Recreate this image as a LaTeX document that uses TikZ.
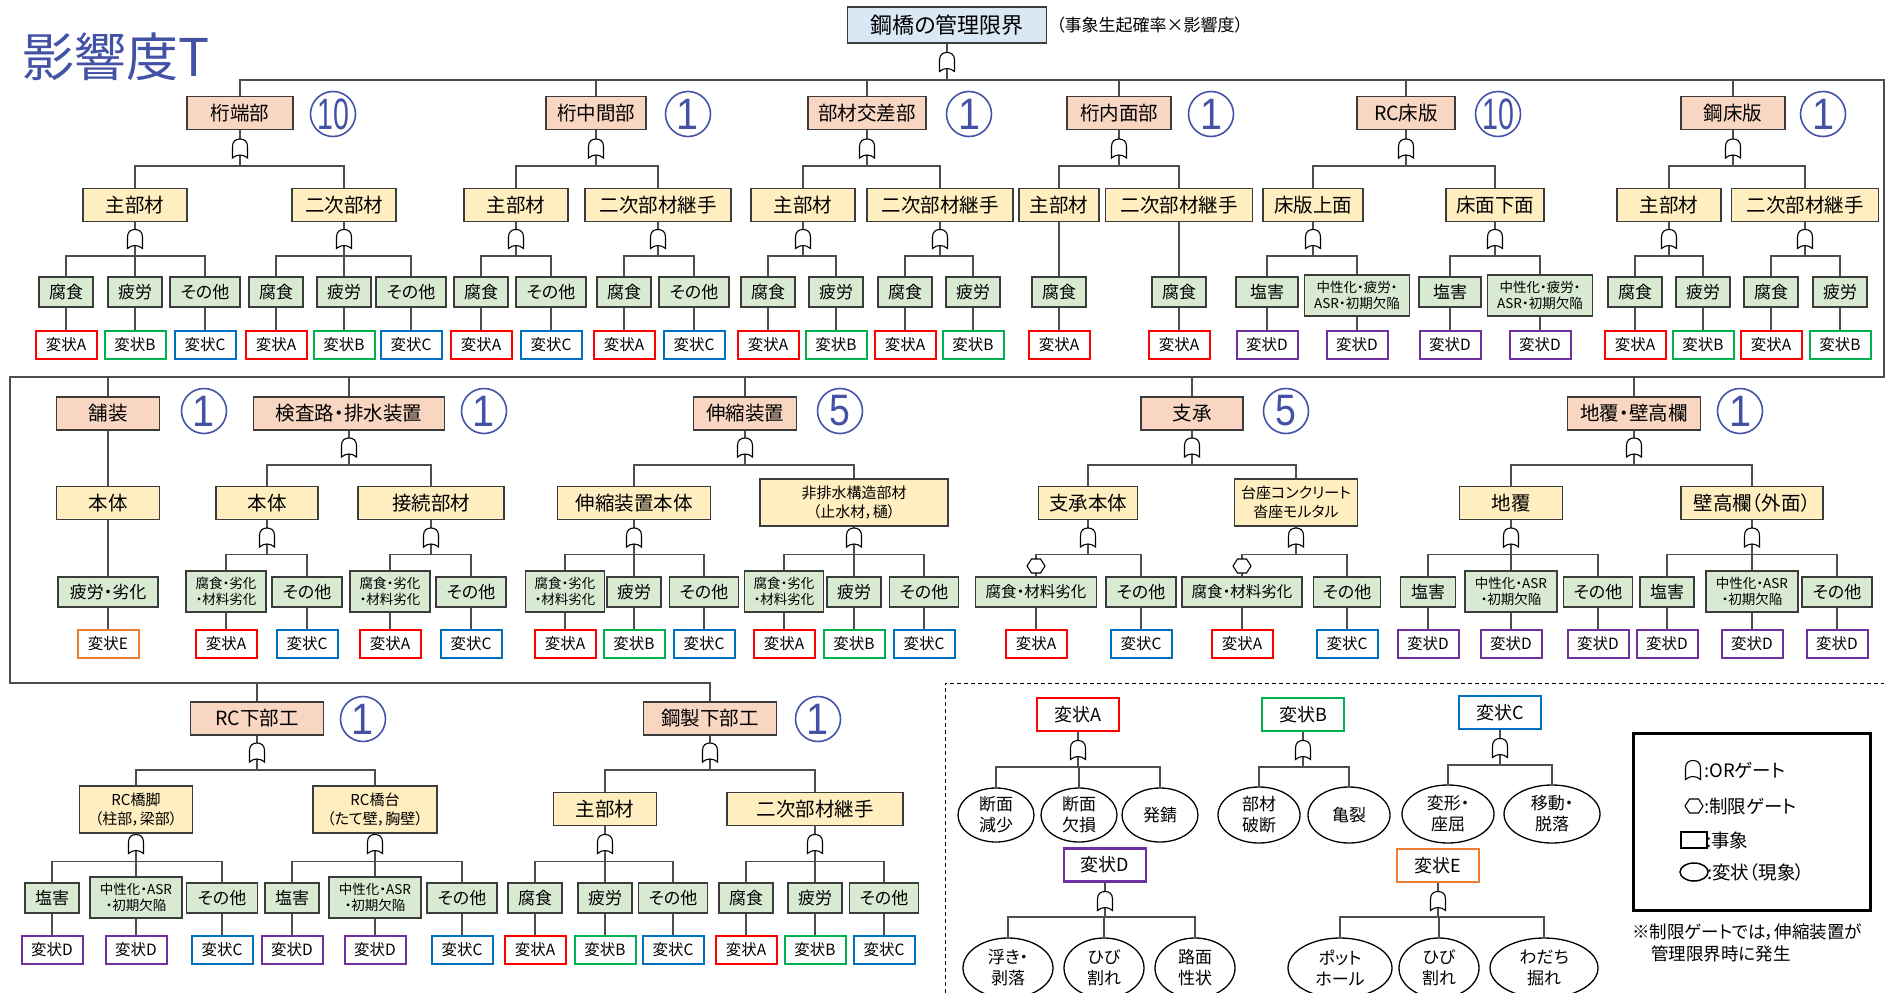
\documentclass[tikz,border=0pt]{standalone}
\usepackage{fontspec}
\setmainfont{Noto Sans CJK JP}[RawFeature=+palt]
\newfontfamily\numfont{Liberation Sans}
\usetikzlibrary{shapes.geometric}
\definecolor{catc}{HTML}{F8D6C2}
\definecolor{subc}{HTML}{FFEEC0}
\definecolor{leafc}{HTML}{D9EAD3}
\definecolor{topc}{HTML}{DAE8F5}
\definecolor{boxln}{HTML}{3C3C3C}
\definecolor{lnc}{HTML}{4D4D4D}
\definecolor{hAc}{HTML}{FF0000}
\definecolor{hBc}{HTML}{00B050}
\definecolor{hCc}{HTML}{0070C0}
\definecolor{hDc}{HTML}{7030A0}
\definecolor{hEc}{HTML}{ED7D31}
\definecolor{numc}{HTML}{4452A6}
\newcommand{\mynd}[5]{\node[#1,minimum width=#2] (#3) at #4 {#5};}
\newcommand{\myfan}[3]{\draw[cn] (#1.south) -- (#1.south |- 0,#2);\foreach \ch in {#3}{\draw[cn] (\ch.north) |- (#1.south |- 0,#2);}}
\newcommand{\mygate}[2]{\pic at (#1.south |- 0,#2) {orgate};}
\newcommand{\myvl}[2]{\draw[cn] (#1.south) -- (#1.south |- #2.north);}
\tikzset{
 cn/.style={draw=lnc, line width=1.5pt},
 gl/.style={draw=black, line width=1.1pt, fill=white},
 orgate/.pic={\path[gl] (-7.5,9.5) -- (-7.5,-2) .. controls (-7.5,-7.5) and (-4,-9.5) .. (0,-9.5) .. controls (4,-9.5) and (7.5,-7.5) .. (7.5,-2) -- (7.5,9.5) .. controls (3,5.5) and (-3,5.5) .. (-7.5,9.5) -- cycle;},
 hexgate/.pic={\path[gl] (-9,0) -- (-4.5,-7) -- (4.5,-7) -- (9,0) -- (4.5,7) -- (-4.5,7) -- cycle;},
 bx/.style={draw=boxln, line width=1.4pt, inner sep=0pt, align=center},
 topb/.style={bx, fill=topc, minimum width=199, minimum height=36, font=\fontsize{22}{26}\selectfont},
 cat/.style={bx, fill=catc, minimum height=33, font=\fontsize{19.5}{23}\selectfont},
 sub/.style={bx, fill=subc, minimum height=33, font=\fontsize{19.5}{23}\selectfont},
 subt/.style={bx, fill=subc, minimum height=47, font=\fontsize{15}{19}\selectfont},
 leaf/.style={bx, fill=leafc, minimum height=30, font=\fontsize{17}{20}\selectfont},
 leafm/.style={bx, fill=leafc, minimum height=30, font=\fontsize{15.5}{18}\selectfont},
 leaft/.style={bx, fill=leafc, minimum height=41, font=\fontsize{13.5}{16.5}\selectfont},
 hen/.style={fill=white, line width=2pt, inner sep=0pt, minimum width=61, minimum height=28, font=\fontsize{15.5}{18}\selectfont},
 hA/.style={hen, draw=hAc}, hB/.style={hen, draw=hBc}, hC/.style={hen, draw=hCc},
 hD/.style={hen, draw=hDc}, hE/.style={hen, draw=hEc},
 lh/.style={line width=2.2pt, fill=white, inner sep=0pt, minimum width=82, minimum height=33, font=\fontsize{18}{21}\selectfont},
 cnum/.style={circle, draw=numc, line width=1.6pt, minimum size=45, inner sep=0pt, text=numc, font=\numfont\fontsize{44}{44}\selectfont},
 ev/.style={ellipse, draw=black, line width=1.3pt, fill=white, inner sep=0pt, align=center, font=\fontsize{17}{21}\selectfont},
 txt/.style={inner sep=0pt, anchor=west},
}
\newcommand{\one}{\scalebox{0.9}[1]{1}}
\newcommand{\ten}{\scalebox{0.65}[1]{10}}
\newcommand{\five}{\scalebox{0.85}[1]{5}}
\begin{document}
\begin{tikzpicture}[x=1pt,y=-1pt]
\useasboundingbox (0,0) rectangle (1887,993);
% ---------- title and top ----------
\node[txt, text=numc, font=\fontsize{52}{52}\selectfont] (ttl) at (22,57) {影響度T};
\node[topb] (T) at (947,25) {鋼橋の管理限界};
\node[txt, font=\fontsize{17}{20}\selectfont] (Tn) at (1056,25) {（事象生起確率×影響度）};
% ---------- row 1 ----------
\mynd{cat}{106}{k1}{(240,113)}{桁端部}
\mynd{cat}{100}{k2}{(596,113)}{桁中間部}
\mynd{cat}{118}{k3}{(867,113)}{部材交差部}
\mynd{cat}{104}{k4}{(1119,113)}{桁内面部}
\mynd{cat}{98}{k5}{(1406,113)}{RC床版}
\mynd{cat}{104}{k6}{(1733,113)}{鋼床版}
\node[cnum] (n1) at (333,114) {\ten};
\node[cnum] (n2) at (688,114) {\one};
\node[cnum] (n3) at (969,114) {\one};
\node[cnum] (n4) at (1211,114) {\one};
\node[cnum] (n5) at (1498,114) {\ten};
\node[cnum] (n6) at (1823,114) {\one};
\mynd{sub}{104}{s11}{(135,205)}{主部材}
\mynd{sub}{104}{s12}{(344,205)}{二次部材}
\mynd{sub}{104}{s21}{(516,205)}{主部材}
\mynd{sub}{146}{s22}{(658,205)}{二次部材継手}
\mynd{sub}{104}{s31}{(803,205)}{主部材}
\mynd{sub}{146}{s32}{(940,205)}{二次部材継手}
\mynd{sub}{80}{s41}{(1059,205)}{主部材}
\mynd{sub}{147}{s42}{(1179,205)}{二次部材継手}
\mynd{sub}{100}{s51}{(1313,205)}{床版上面}
\mynd{sub}{98}{s52}{(1495,205)}{床面下面}
\mynd{sub}{104}{s61}{(1669,205)}{主部材}
\mynd{sub}{147}{s62}{(1805,205)}{二次部材継手}
% leaves row 1
\mynd{leaf}{54}{l111}{(66,292)}{腐食}
\mynd{leaf}{54}{l112}{(135,292)}{疲労}
\mynd{leaf}{70}{l113}{(205,292)}{その他}
\mynd{leaf}{54}{l121}{(276,292)}{腐食}
\mynd{leaf}{54}{l122}{(344,292)}{疲労}
\mynd{leaf}{70}{l123}{(411,292)}{その他}
\mynd{leaf}{54}{l211}{(481,292)}{腐食}
\mynd{leaf}{70}{l212}{(551,292)}{その他}
\mynd{leaf}{54}{l221}{(624,292)}{腐食}
\mynd{leaf}{70}{l222}{(694,292)}{その他}
\mynd{leaf}{54}{l311}{(768,292)}{腐食}
\mynd{leaf}{54}{l312}{(836,292)}{疲労}
\mynd{leaf}{54}{l321}{(905,292)}{腐食}
\mynd{leaf}{54}{l322}{(973,292)}{疲労}
\mynd{leaf}{54}{l411}{(1059,292)}{腐食}
\mynd{leaf}{54}{l421}{(1179,292)}{腐食}
\mynd{leaf}{62}{l511}{(1267,292)}{塩害}
\mynd{leaft}{105}{l512}{(1357,295.5)}{中性化・疲労・\\ASR・初期欠陥}
\mynd{leaf}{62}{l521}{(1450,292)}{塩害}
\mynd{leaft}{105}{l522}{(1540,295.5)}{中性化・疲労・\\ASR・初期欠陥}
\mynd{leaf}{54}{l611}{(1635,292)}{腐食}
\mynd{leaf}{54}{l612}{(1703,292)}{疲労}
\mynd{leaf}{54}{l621}{(1771,292)}{腐食}
\mynd{leaf}{54}{l622}{(1840,292)}{疲労}
% hen row 1
\node[hA] (h111) at (66,345) {変状A};
\node[hB] (h112) at (135,345) {変状B};
\node[hC] (h113) at (205,345) {変状C};
\node[hA] (h121) at (276,345) {変状A};
\node[hB] (h122) at (344,345) {変状B};
\node[hC] (h123) at (411,345) {変状C};
\node[hA] (h211) at (481,345) {変状A};
\node[hC] (h212) at (551,345) {変状C};
\node[hA] (h221) at (624,345) {変状A};
\node[hC] (h222) at (694,345) {変状C};
\node[hA] (h311) at (768,345) {変状A};
\node[hB] (h312) at (836,345) {変状B};
\node[hA] (h321) at (905,345) {変状A};
\node[hB] (h322) at (973,345) {変状B};
\node[hA] (h411) at (1059,345) {変状A};
\node[hA] (h421) at (1179,345) {変状A};
\node[hD] (h511) at (1267,345) {変状D};
\node[hD] (h512) at (1357,345) {変状D};
\node[hD] (h521) at (1450,345) {変状D};
\node[hD] (h522) at (1540,345) {変状D};
\node[hA] (h611) at (1635,345) {変状A};
\node[hB] (h612) at (1703,345) {変状B};
\node[hA] (h621) at (1771,345) {変状A};
\node[hB] (h622) at (1840,345) {変状B};
% ---------- row 2 ----------
\mynd{cat}{103}{k7}{(108,413.5)}{舗装}
\mynd{cat}{191}{k8}{(349,413.5)}{検査路・排水装置}
\mynd{cat}{103}{k9}{(745,413.5)}{伸縮装置}
\mynd{cat}{102}{k10}{(1192,413.5)}{支承}
\mynd{cat}{133}{k11}{(1634,413.5)}{地覆・壁高欄}
\node[cnum] (n7) at (204,411) {\one};
\node[cnum] (n8) at (484,411) {\one};
\node[cnum] (n9) at (840,411) {\five};
\node[cnum] (n10) at (1286,411) {\five};
\node[cnum] (n11) at (1740,411) {\one};
\mynd{sub}{103}{s71}{(108,503)}{本体}
\mynd{sub}{102}{s81}{(267,503)}{本体}
\mynd{sub}{146}{s82}{(431,503)}{接続部材}
\mynd{sub}{153}{s91}{(634,503)}{伸縮装置本体}
\mynd{subt}{188}{s92}{(854,502.5)}{非排水構造部材\\（止水材，樋）}
\mynd{sub}{99}{s101}{(1088,503)}{支承本体}
\mynd{subt}{123}{s102}{(1296,502.5)}{台座コンクリート\\沓座モルタル}
\mynd{sub}{103}{s111}{(1511,503)}{地覆}
\mynd{sub}{142}{s112}{(1752,503)}{壁高欄（外面）}
\mynd{leaf}{100}{l71}{(108,592)}{疲労・劣化}
\mynd{leaft}{80}{l811}{(226,591.5)}{腐食・劣化\\・材料劣化}
\mynd{leaf}{70}{l812}{(307,592)}{その他}
\mynd{leaft}{80}{l821}{(390,591.5)}{腐食・劣化\\・材料劣化}
\mynd{leaf}{70}{l822}{(471,592)}{その他}
\mynd{leaft}{79}{l911}{(565,591.5)}{腐食・劣化\\・材料劣化}
\mynd{leaf}{54}{l912}{(634,592)}{疲労}
\mynd{leaf}{69}{l913}{(704,592)}{その他}
\mynd{leaft}{79}{l921}{(784,591.5)}{腐食・劣化\\・材料劣化}
\mynd{leaf}{54}{l922}{(854,592)}{疲労}
\mynd{leaf}{69}{l923}{(924,592)}{その他}
\mynd{leafm}{121}{l1011}{(1036,592)}{腐食・材料劣化}
\mynd{leaf}{70}{l1012}{(1141,592)}{その他}
\mynd{leafm}{120}{l1021}{(1242,592)}{腐食・材料劣化}
\mynd{leaf}{67}{l1022}{(1347,592)}{その他}
\mynd{leaf}{55}{l1111}{(1428,592)}{塩害}
\mynd{leaft}{92}{l1112}{(1511,591.5)}{中性化・ASR\\・初期欠陥}
\mynd{leaf}{69}{l1113}{(1598,592)}{その他}
\mynd{leaf}{54}{l1121}{(1667,592)}{塩害}
\mynd{leaft}{92}{l1122}{(1752,591.5)}{中性化・ASR\\・初期欠陥}
\mynd{leaf}{70}{l1123}{(1837,592)}{その他}
\node[hE] (h71) at (108,644) {変状E};
\node[hA] (h811) at (226,644) {変状A};
\node[hC] (h812) at (307,644) {変状C};
\node[hA] (h821) at (390,644) {変状A};
\node[hC] (h822) at (471,644) {変状C};
\node[hA] (h911) at (565,644) {変状A};
\node[hB] (h912) at (634,644) {変状B};
\node[hC] (h913) at (704,644) {変状C};
\node[hA] (h921) at (784,644) {変状A};
\node[hB] (h922) at (854,644) {変状B};
\node[hC] (h923) at (924,644) {変状C};
\node[hA] (h1011) at (1036,644) {変状A};
\node[hC] (h1012) at (1141,644) {変状C};
\node[hA] (h1021) at (1242,644) {変状A};
\node[hC] (h1022) at (1347,644) {変状C};
\node[hD] (h1111) at (1428,644) {変状D};
\node[hD] (h1112) at (1511,644) {変状D};
\node[hD] (h1113) at (1598,644) {変状D};
\node[hD] (h1121) at (1667,644) {変状D};
\node[hD] (h1122) at (1752,644) {変状D};
\node[hD] (h1123) at (1837,644) {変状D};
% ---------- row 3 ----------
\mynd{cat}{133}{k12}{(257,718.5)}{RC下部工}
\mynd{cat}{133}{k13}{(710,718.5)}{鋼製下部工}
\node[cnum] (n12) at (363,719) {\one};
\node[cnum] (n13) at (818,719) {\one};
\mynd{subt}{113}{s121}{(136,809.5)}{RC橋脚\\（柱部，梁部）}
\mynd{subt}{124}{s122}{(375,809.5)}{RC橋台\\（たて壁，胸壁）}
\mynd{sub}{103}{s131}{(605,809)}{主部材}
\mynd{sub}{176}{s132}{(815,809)}{二次部材継手}
\mynd{leaf}{54}{l1211}{(52,898)}{塩害}
\mynd{leaft}{92}{l1212}{(136,897.5)}{中性化・ASR\\・初期欠陥}
\mynd{leaf}{71}{l1213}{(222,898)}{その他}
\mynd{leaf}{54}{l1221}{(292,898)}{塩害}
\mynd{leaft}{92}{l1222}{(375,897.5)}{中性化・ASR\\・初期欠陥}
\mynd{leaf}{70}{l1223}{(462,898)}{その他}
\mynd{leaf}{54}{l1311}{(535,898)}{腐食}
\mynd{leaf}{54}{l1312}{(605,898)}{疲労}
\mynd{leaf}{69}{l1313}{(673,898)}{その他}
\mynd{leaf}{54}{l1321}{(746,898)}{腐食}
\mynd{leaf}{54}{l1322}{(815,898)}{疲労}
\mynd{leaf}{69}{l1323}{(884,898)}{その他}
\node[hD] (h1211) at (52,950) {変状D};
\node[hD] (h1212) at (136,950) {変状D};
\node[hC] (h1213) at (222,950) {変状C};
\node[hD] (h1221) at (292,950) {変状D};
\node[hD] (h1222) at (375,950) {変状D};
\node[hC] (h1223) at (462,950) {変状C};
\node[hA] (h1311) at (535,950) {変状A};
\node[hB] (h1312) at (605,950) {変状B};
\node[hC] (h1313) at (673,950) {変状C};
\node[hA] (h1321) at (746,950) {変状A};
\node[hB] (h1322) at (815,950) {変状B};
\node[hC] (h1323) at (884,950) {変状C};
% ---------- backbone ----------
\coordinate (c1) at (1884,80);
\coordinate (c2) at (1884,377);
\coordinate (c3) at (10,377);
\coordinate (c4) at (10,683);
\draw[cn] (T.south) -- (T.south |- c1);
\draw[cn] (k1.north) |- (c1) -- (c2) -- (c3) -- (c4) -| (k13.north);
\foreach \k in {k2,k3,k4,k5,k6} {\draw[cn] (\k.north) -- (\k.north |- c1);}
\foreach \k in {k7,k8,k9,k10,k11} {\draw[cn] (\k.north) -- (\k.north |- c2);}
\draw[cn] (k12.north) -- (k12.north |- c4);
% ---------- fans row 1 ----------
\myfan{k1}{166}{s11,s12}
\myfan{k2}{166}{s21,s22}
\myfan{k3}{166}{s31,s32}
\myfan{k4}{166}{s41,s42}
\myfan{k5}{166}{s51,s52}
\myfan{k6}{166}{s61,s62}
\myfan{s11}{256}{l111,l112,l113}
\myfan{s12}{256}{l121,l122,l123}
\myfan{s21}{256}{l211,l212}
\myfan{s22}{256}{l221,l222}
\myfan{s31}{256}{l311,l312}
\myfan{s32}{256}{l321,l322}
\myvl{s41}{l411}
\myvl{s42}{l421}
\myfan{s51}{256}{l511,l512}
\myfan{s52}{256}{l521,l522}
\myfan{s61}{256}{l611,l612}
\myfan{s62}{256}{l621,l622}
\foreach \a in {111,112,113,121,122,123,211,212,221,222,311,312,321,322,411,421,511,512,521,522,611,612,621,622} {\myvl{l\a}{h\a}}
% ---------- fans row 2 ----------
\myvl{k7}{s71}
\myvl{s71}{l71}
\myfan{k8}{465}{s81,s82}
\myfan{k9}{465}{s91,s92}
\myfan{k10}{465}{s101,s102}
\myfan{k11}{465}{s111,s112}
\myfan{s81}{554.5}{l811,l812}
\myfan{s82}{554.5}{l821,l822}
\myfan{s91}{554.5}{l911,l912,l913}
\myfan{s92}{554.5}{l921,l922,l923}
\myfan{s101}{554.5}{l1011,l1012}
\myfan{s102}{554.5}{l1021,l1022}
\myfan{s111}{554.5}{l1111,l1112,l1113}
\myfan{s112}{554.5}{l1121,l1122,l1123}
\foreach \a in {71,811,812,821,822,911,912,913,921,922,923,1011,1012,1021,1022,1111,1112,1113,1121,1122,1123} {\myvl{l\a}{h\a}}
% ---------- fans row 3 ----------
\myfan{k12}{770}{s121,s122}
\myfan{k13}{770}{s131,s132}
\myfan{s121}{861.5}{l1211,l1212,l1213}
\myfan{s122}{861.5}{l1221,l1222,l1223}
\myfan{s131}{861.5}{l1311,l1312,l1313}
\myfan{s132}{861.5}{l1321,l1322,l1323}
\foreach \a in {1211,1212,1213,1221,1222,1223,1311,1312,1313,1321,1322,1323} {\myvl{l\a}{h\a}}
% ---------- gates ----------
\pic at (T.south |- 0,62) {orgate};
\foreach \k in {k1,k2,k3,k4,k5,k6} {\mygate{\k}{148.5}}
\foreach \s in {s11,s12,s21,s22,s31,s32,s51,s52,s61,s62} {\mygate{\s}{239}}
\foreach \k in {k8,k9,k10,k11} {\mygate{\k}{447.5}}
\foreach \s in {s81,s82,s91,s92,s101,s102,s111,s112} {\mygate{\s}{537.5}}
\pic at (l1011.north |- 0,566) {hexgate};
\pic at (l1021.north |- 0,566) {hexgate};
\foreach \k in {k12,k13} {\mygate{\k}{752.5}}
\foreach \s in {s121,s122,s131,s132} {\mygate{\s}{844}}
% ---------- legend area ----------
\draw[line width=1pt, dash pattern=on 4pt off 3pt] (945,993) -- (945,683) -- (1884,683);
\node[lh, draw=hAc] (LA) at (1078,714.5) {変状A};
\node[lh, draw=hBc] (LB) at (1303,714.5) {変状B};
\node[lh, draw=hCc] (LC) at (1500,712.5) {変状C};
\node[lh, draw=hDc] (LD) at (1105,865) {変状D};
\node[lh, draw=hEc] (LE) at (1438,865.5) {変状E};
\node[ev, minimum width=76, minimum height=54] (eA1) at (996,815) {断面\\減少};
\node[ev, minimum width=76, minimum height=54] (eA2) at (1079,815) {断面\\欠損};
\node[ev, minimum width=76, minimum height=54] (eA3) at (1160,815) {発錆};
\node[ev, minimum width=82, minimum height=56] (eB1) at (1259,815) {部材\\破断};
\node[ev, minimum width=82, minimum height=56] (eB2) at (1349,815) {亀裂};
\node[ev, minimum width=92, minimum height=58] (eC1) at (1448,814) {変形・\\座屈};
\node[ev, minimum width=96, minimum height=58] (eC2) at (1552,814) {移動・\\脱落};
\node[ev, minimum width=90, minimum height=60] (eD1) at (1008,968) {浮き・\\剥落};
\node[ev, minimum width=80, minimum height=60] (eD2) at (1104,968) {ひび\\割れ};
\node[ev, minimum width=80, minimum height=60] (eD3) at (1195,968) {路面\\性状};
\node[ev, minimum width=104, minimum height=60] (eE1) at (1340,968) {ポット\\ホール};
\node[ev, minimum width=80, minimum height=60] (eE2) at (1439,968) {ひび\\割れ};
\node[ev, minimum width=108, minimum height=60] (eE3) at (1544,968) {わだち\\掘れ};
\myfan{LA}{767}{eA1,eA2,eA3}
\myfan{LB}{767}{eB1,eB2}
\myfan{LC}{765}{eC1,eC2}
\myfan{LD}{917}{eD1,eD2,eD3}
\myfan{LE}{917}{eE1,eE2,eE3}
\mygate{LA}{750}
\mygate{LB}{750}
\mygate{LC}{748}
\mygate{LD}{901}
\mygate{LE}{901}
% legend box
\draw[line width=3pt] (1633,733) rectangle (1870,910);
\pic at (1693,770) {orgate};
\node[txt, font=\fontsize{18.5}{21}\selectfont] (lg1) at (1704,770) {:ORゲート};
\pic at (1694,806) {hexgate};
\node[txt, font=\fontsize{18.5}{21}\selectfont] (lg2) at (1704,806) {:制限ゲート};
\draw[line width=1.5pt] (1681,832) rectangle (1707,848);
\node[txt, font=\fontsize{18.5}{21}\selectfont] (lg3) at (1706,840) {:事象};
\draw[line width=1.5pt] (1694,872) ellipse [x radius=14, y radius=9];
\node[txt, font=\fontsize{18.5}{21}\selectfont] (lg4) at (1707,872) {:変状（現象）};
\node[txt, font=\fontsize{17.5}{20}\selectfont] (nt1) at (1632,932) {※制限ゲートでは，伸縮装置が};
\node[txt, font=\fontsize{17.5}{20}\selectfont] (nt2) at (1651,954) {管理限界時に発生};
\end{tikzpicture}
\end{document}
